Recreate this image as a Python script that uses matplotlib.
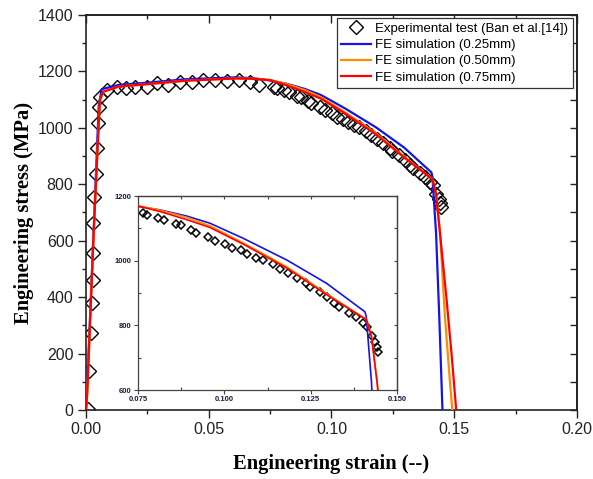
import matplotlib
matplotlib.use("Agg")
import matplotlib.pyplot as plt
from matplotlib.ticker import MultipleLocator, FormatStrFormatter

# ---------------- data ----------------
exp_strain = [0.0008, 0.0013, 0.0019, 0.0023, 0.0030, 0.0030, 0.0030, 0.0034, 0.0041,
              0.0044, 0.0050, 0.0054, 0.0057, 0.0087, 0.0125, 0.0163, 0.0200, 0.0247,
              0.0288, 0.0335, 0.0383, 0.0430, 0.0478, 0.0525, 0.0573, 0.0624, 0.0668,
              0.0706, 0.0764, 0.0777, 0.0807, 0.0825, 0.0860, 0.0874, 0.0903, 0.0918,
              0.0954, 0.0974, 0.1003, 0.1022, 0.1048, 0.1066, 0.1092, 0.1111, 0.1140,
              0.1161, 0.1185, 0.1211, 0.1237, 0.1248, 0.1277, 0.1298, 0.1318, 0.1333,
              0.1362, 0.1381, 0.1401, 0.1414, 0.1427, 0.1436, 0.1441, 0.1446]
exp_stress = [5, 138, 272, 378, 461, 555, 662, 756, 835,
              930, 1016, 1075, 1110, 1134, 1144, 1140, 1144, 1144,
              1158, 1152, 1164, 1164, 1170, 1170, 1166, 1170, 1164,
              1152, 1146, 1141, 1133, 1126, 1113, 1109, 1095, 1087,
              1074, 1062, 1052, 1040, 1033, 1020, 1009, 1002, 989,
              973, 961, 945, 930, 918, 904, 887, 870, 858,
              839, 827, 808, 796, 767, 749, 734, 719]

fe025_strain = [0, 0.0005, 0.003, 0.0052, 0.0064, 0.0132, 0.025, 0.0403, 0.0607, 0.068,
                0.075, 0.0814, 0.0891, 0.0958, 0.1055, 0.1181, 0.1296, 0.1407, 0.1411,
                0.1426, 0.1439, 0.1452]
fe025_stress = [0, 90, 610, 1080, 1137, 1152, 1160, 1172, 1179, 1176,
                1168, 1157, 1138, 1116, 1069, 1002, 930, 842, 827,
                626, 331, 0]

fe050_strain = [0, 0.0005, 0.003, 0.005, 0.0057, 0.007, 0.0132, 0.025, 0.0403, 0.0607,
                0.068, 0.075, 0.0814, 0.0891, 0.0958, 0.1055, 0.1181, 0.1296, 0.1412,
                0.1426, 0.1442, 0.1462, 0.1483, 0.1492]
fe050_stress = [0, 59, 602, 980, 1099, 1128, 1146, 1155, 1167, 1175,
                1174, 1170, 1156, 1134, 1108, 1055, 981, 898, 818,
                768, 630, 331, 95, 0]

fe075_strain = [0, 0.0005, 0.003, 0.005, 0.0057, 0.007, 0.0132, 0.025, 0.0403, 0.0607,
                0.068, 0.075, 0.0814, 0.0891, 0.0958, 0.1055, 0.1181, 0.1296, 0.1412,
                0.1426, 0.1442, 0.1469, 0.1490, 0.1508]
fe075_stress = [0, 59, 602, 980, 1099, 1128, 1146, 1155, 1167, 1175,
                1174, 1169, 1152, 1127, 1103, 1051, 977, 895, 817,
                765, 626, 390, 189, 0]

labels = ["Experimental test (Ban et al.[14])", "FE simulation (0.25mm)",
          "FE simulation (0.50mm)", "FE simulation (0.75mm)"]
colors = ["#1414e6", "#ff8c00", "#ff0000"]
x_ticks = [0.00, 0.05, 0.10, 0.15, 0.20]
y_ticks = [0, 200, 400, 600, 800, 1000, 1200, 1400]
inset_x_ticks = [0.075, 0.100, 0.125, 0.150]
inset_y_ticks = [600, 800, 1000, 1200]

# ---------------- figure ----------------
plt.rcParams['font.family'] = ['Liberation Sans', 'DejaVu Sans']
fig = plt.figure(figsize=(5.93, 4.79), dpi=100)
ax = fig.add_axes([0.1450, 0.1441, 0.828, 0.8246])

spine_c = "#222222"
ax.plot(exp_strain, exp_stress, linestyle='none', marker='D', ms=7.4, mfc='none',
        mec='black', mew=1.0, zorder=2, label=labels[0])
for xs, ys, c, lab in zip([fe025_strain, fe050_strain, fe075_strain],
                          [fe025_stress, fe050_stress, fe075_stress], colors, labels[1:]):
    ax.plot(xs, ys, color=c, lw=1.6, zorder=3, label=lab)

ax.set_xlim(0, 0.20)
ax.set_ylim(0, 1400)
ax.set_xticks(x_ticks)
ax.set_yticks(y_ticks)
ax.xaxis.set_major_formatter(FormatStrFormatter('%.2f'))
ax.xaxis.set_minor_locator(MultipleLocator(0.025))
ax.yaxis.set_minor_locator(MultipleLocator(100))
ax.tick_params(which='major', direction='out', length=6, width=1.0, labelsize=11.5,
               colors=spine_c, labelcolor='#222222', pad=3)
ax.tick_params(which='minor', direction='out', length=3, width=1.0, colors=spine_c)
for s in ax.spines.values():
    s.set_linewidth(1.2)
    s.set_color(spine_c)

secx = ax.secondary_xaxis('top')
secx.set_xticks(x_ticks)
secx.xaxis.set_minor_locator(MultipleLocator(0.025))
secx.tick_params(which='major', direction='in', length=6, width=1.0, labeltop=False, colors=spine_c)
secx.tick_params(which='minor', direction='in', length=3, width=1.0, colors=spine_c)
secx.spines['top'].set_linewidth(1.2)
secx.spines['top'].set_color(spine_c)
secy = ax.secondary_yaxis('right')
secy.set_yticks(y_ticks)
secy.yaxis.set_minor_locator(MultipleLocator(100))
secy.tick_params(which='major', direction='in', length=5, width=1.0, labelright=False, colors=spine_c)
secy.tick_params(which='minor', direction='in', length=5, width=1.0, colors=spine_c)
secy.spines['right'].set_linewidth(1.2)
secy.spines['right'].set_color(spine_c)

lab_font = dict(family=['Liberation Serif', 'DejaVu Serif'], weight='bold', size=14.8)
ax.set_xlabel("Engineering strain (--)", labelpad=12, **lab_font)
ax.set_ylabel("Engineering stress (MPa)", labelpad=3, **lab_font)

leg = ax.legend(loc='upper right', bbox_to_anchor=(0.992, 0.992), borderaxespad=0,
                fontsize=9.5, fancybox=False, edgecolor='#333333', framealpha=1,
                handlelength=2.3, handletextpad=0.3, labelspacing=0.3, borderpad=0.35)
leg.get_frame().set_linewidth(0.9)

# ---------------- inset ----------------
ins = fig.add_axes([0.2327, 0.1858, 0.4368, 0.4050])
ins.plot(exp_strain, exp_stress, linestyle='none', marker='D', ms=3.6, mfc='none',
         mec='black', mew=1.1, zorder=2)
for xs, ys, c in zip([fe025_strain, fe050_strain, fe075_strain],
                     [fe025_stress, fe050_stress, fe075_stress], colors):
    ins.plot(xs, ys, color=c, lw=1.2, zorder=3)
ins.set_xlim(0.075, 0.150)
ins.set_ylim(600, 1200)
ins.set_xticks(inset_x_ticks)
ins.set_yticks(inset_y_ticks)
ins.xaxis.set_major_formatter(FormatStrFormatter('%.3f'))
ins.xaxis.set_minor_locator(MultipleLocator(0.0125))
ins.yaxis.set_minor_locator(MultipleLocator(100))
ins.tick_params(which='major', direction='out', length=3, width=0.8, labelsize=5.5,
                colors='#444444', labelcolor='#1c1c40', pad=1.5)
ins.tick_params(which='minor', direction='in', length=2, width=0.8, colors='#444444')
for t in ins.get_xticklabels() + ins.get_yticklabels():
    t.set_fontweight('bold')
for s in ins.spines.values():
    s.set_linewidth(0.9)
    s.set_color('#444444')
isx = ins.secondary_xaxis('top')
isx.set_xticks(inset_x_ticks)
isx.xaxis.set_minor_locator(MultipleLocator(0.0125))
isx.tick_params(which='both', direction='in', length=2.5, width=0.8, labeltop=False, colors='#444444')
isx.spines['top'].set_linewidth(0.9)
isx.spines['top'].set_color('#444444')
isy = ins.secondary_yaxis('right')
isy.set_yticks(inset_y_ticks)
isy.yaxis.set_minor_locator(MultipleLocator(100))
isy.tick_params(which='both', direction='in', length=2.5, width=0.8, labelright=False, colors='#444444')
isy.spines['right'].set_linewidth(0.9)
isy.spines['right'].set_color('#444444')

fig.savefig("out.png", dpi=100)
